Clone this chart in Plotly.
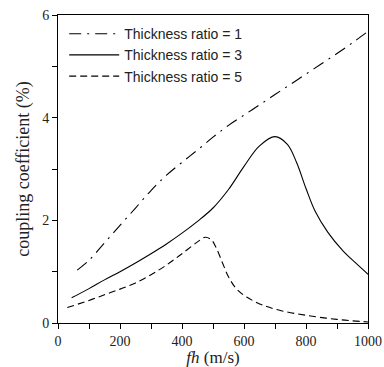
import plotly.graph_objects as go

# Thickness ratio = 1 (dash-dot)
x1 = [62, 100, 150, 200, 250, 300, 350, 400, 450, 500, 550, 600, 650, 700, 750, 800, 850, 900, 950, 1000]
y1 = [1.03, 1.22, 1.56, 1.90, 2.24, 2.58, 2.88, 3.13, 3.37, 3.62, 3.85, 4.05, 4.25, 4.45, 4.65, 4.85, 5.05, 5.25, 5.46, 5.68]

# Thickness ratio = 3 (solid)
x3 = [44, 100, 150, 200, 250, 300, 350, 400, 450, 500, 550, 600, 650, 700, 740, 770, 800, 830, 870, 920, 960, 1000]
y3 = [0.49, 0.67, 0.84, 1.00, 1.17, 1.35, 1.54, 1.75, 1.98, 2.24, 2.60, 3.05, 3.45, 3.63, 3.48, 3.12, 2.62, 2.17, 1.77, 1.40, 1.17, 0.95]

# Thickness ratio = 5 (dashed)
x5 = [30, 100, 150, 200, 250, 300, 350, 400, 450, 475, 495, 510, 530, 550, 575, 610, 660, 720, 800, 900, 1000]
y5 = [0.30, 0.44, 0.55, 0.66, 0.78, 0.94, 1.13, 1.35, 1.58, 1.67, 1.62, 1.47, 1.18, 0.90, 0.67, 0.50, 0.35, 0.24, 0.15, 0.07, 0.02]

series_names = ["Thickness ratio = 1", "Thickness ratio = 3", "Thickness ratio = 5"]

x_ticks = list(range(0, 1001, 100))
x_ticklabels = [str(v) if v % 200 == 0 else "" for v in x_ticks]
y_ticks = [0, 1, 2, 3, 4, 5, 6]
y_ticklabels = [str(v) if v % 2 == 0 else "" for v in y_ticks]

fig = go.Figure()
fig.add_trace(go.Scatter(x=x1, y=y1, mode="lines", name=series_names[0],
                         line=dict(color="black", width=1.1, dash="12px,6px,2px,6px", shape="spline")))
fig.add_trace(go.Scatter(x=x3, y=y3, mode="lines", name=series_names[1],
                         line=dict(color="black", width=1.1, shape="spline")))
fig.add_trace(go.Scatter(x=x5, y=y5, mode="lines", name=series_names[2],
                         line=dict(color="black", width=1.1, dash="7px,4px", shape="spline")))

serif = "Liberation Serif, Times New Roman, serif"
fig.update_layout(
    width=384, height=367,
    margin=dict(l=58, r=16, t=15, b=44, autoexpand=False),
    paper_bgcolor="white", plot_bgcolor="white",
    showlegend=True,
    legend=dict(x=0.02, y=0.99, xanchor="left", yanchor="top",
                bgcolor="rgba(0,0,0,0)", font=dict(family="Liberation Sans, Arial, sans-serif", size=14, color="#222"),
                tracegroupgap=0, itemwidth=50),
    xaxis=dict(range=[0, 1000], tickvals=x_ticks, ticktext=x_ticklabels, automargin=False,
               ticks="outside", ticklen=5, tickcolor="black", showline=True, linecolor="black", linewidth=1,
               mirror=True, showgrid=False, zeroline=False,
               tickfont=dict(family=serif, size=14, color="#222"),
               title=dict(text="<i>fh</i> (m/s)", font=dict(family=serif, size=17, color="#222"), standoff=3)),
    yaxis=dict(range=[0, 6], tickvals=y_ticks, ticktext=y_ticklabels, automargin=False,
               ticks="outside", ticklen=5, tickcolor="black", showline=True, linecolor="black", linewidth=1,
               mirror=True, showgrid=False, zeroline=False,
               tickfont=dict(family=serif, size=14, color="#222"),
               title=dict(text="coupling coefficient (%)", font=dict(family=serif, size=18, color="#222"), standoff=7)),
)

fig.write_html("out.html", config={"displayModeBar": False},
               post_script="document.body.style.margin='0';document.body.style.overflow='hidden';")
